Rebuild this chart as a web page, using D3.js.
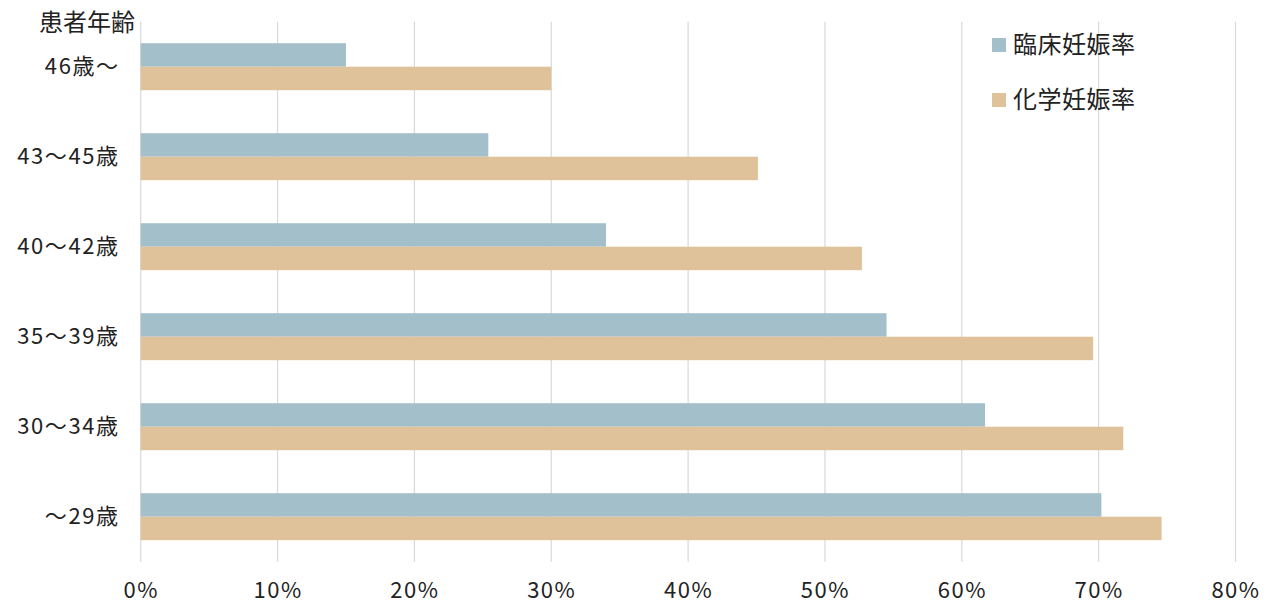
<!DOCTYPE html>
<html><head><meta charset="utf-8">
<script src="https://cdn.jsdelivr.net/npm/d3@7"></script>
<style>
html,body{margin:0;padding:0;background:#fff;}
text{font-family:"Noto Sans CJK JP","Noto Sans",sans-serif;fill:#222;}
</style></head>
<body><svg id="c" width="1280" height="609"></svg>
<script>
const categories = ["46歳〜","43〜45歳","40〜42歳","35〜39歳","30〜34歳","〜29歳"];
const clinical = [15.0, 25.4, 34.0, 54.5, 61.7, 70.2];
const chemical = [30.0, 45.1, 52.7, 69.6, 71.8, 74.6];
const seriesNames = ["臨床妊娠率","化学妊娠率"];
const xTicks = [0,10,20,30,40,50,60,70,80];
const colors = ["#a3bfca","#dfc29a"];

const svg = d3.select("#c");
const pLeft = 140.7, pRight = 1235.5, pTop = 21.7, pBottom = 561.7;
const x = d3.scaleLinear().domain([0,80]).range([pLeft,pRight]);
const y = d3.scaleBand().domain(categories).range([pTop,pBottom]).paddingInner(0.478).paddingOuter(0.239);
const sub = d3.scaleBand().domain([0,1]).range([0,y.bandwidth()]);

// gridlines
svg.append("g").selectAll("line").data(xTicks).join("line")
  .attr("x1",d=>x(d)).attr("x2",d=>x(d)).attr("y1",pTop).attr("y2",pBottom)
  .attr("stroke","#d9d9d9").attr("stroke-width",1.2);

// bars
const data = [clinical, chemical];
data.forEach((vals,si)=>{
  svg.append("g").selectAll("rect").data(vals).join("rect")
    .attr("x",x(0)).attr("y",(d,i)=>y(categories[i])+sub(si))
    .attr("width",d=>x(d)-x(0)).attr("height",sub.bandwidth())
    .attr("fill",colors[si]);
});

// x tick labels
const xa = d3.axisBottom(x).tickValues(xTicks).tickFormat(d=>d+"%").tickSize(0).tickPadding(0);
const gx = svg.append("g").attr("transform",`translate(0,${590})`).call(xa);
gx.select(".domain").remove();
gx.selectAll("text").attr("font-size",22).attr("dy","0.35em").attr("y",0)
  .style("letter-spacing","1.5px")
  .style("font-family",'"Noto Sans CJK JP",sans-serif').attr("fill","#222");

// y labels
const ya = d3.axisLeft(y).tickSize(0).tickPadding(21);
const gy = svg.append("g").attr("transform",`translate(${pLeft},0)`).call(ya);
gy.select(".domain").remove();
gy.selectAll("text").attr("font-size",22).attr("fill","#222")
  .style("letter-spacing","1.6px")
  .style("font-family",'"Noto Sans CJK JP",sans-serif');

// title
svg.append("text").attr("x",39).attr("y",23).attr("dy","0.35em").attr("font-size",24).text("患者年齢");

// legend
seriesNames.forEach((n,i)=>{
  const ly = 45 + i*55;
  svg.append("rect").attr("x",992).attr("y",ly-7).attr("width",14).attr("height",14).attr("fill",colors[i]);
  svg.append("text").attr("x",1013).attr("y",ly).attr("dy","0.35em").attr("font-size",24)
    .style("letter-spacing","0.5px").text(n);
});
</script></body></html>
